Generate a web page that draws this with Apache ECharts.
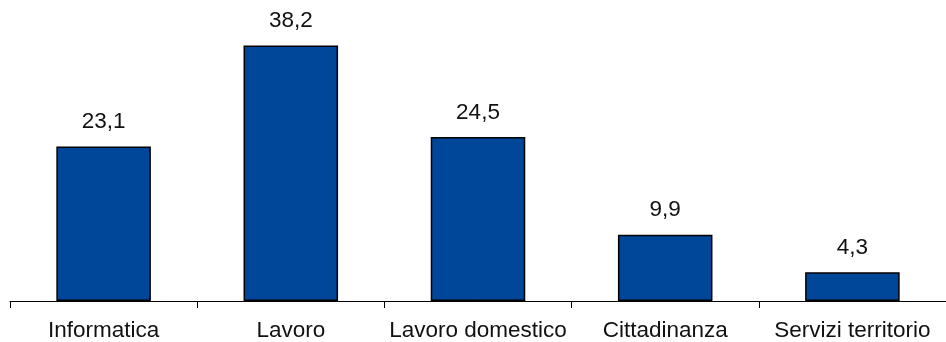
<!DOCTYPE html>
<html><head><meta charset="utf-8">
<script src="https://cdn.jsdelivr.net/npm/echarts@6/dist/echarts.min.js"></script>
<style>html,body{margin:0;padding:0;background:#fff}#c{width:946px;height:342px}</style>
</head><body><div id="c"></div>
<script>
const categories = ["Informatica", "Lavoro", "Lavoro domestico", "Cittadinanza", "Servizi territorio"];
const values = [23.1, 38.2, 24.5, 9.9, 4.3];

const chart = echarts.init(document.getElementById('c'), null, {renderer: 'canvas'});
chart.setOption({
  animation: false,
  grid: {left: 10, width: 940, top: 0, bottom: 38, containLabel: false},
  xAxis: {
    type: 'category', data: categories,
    axisLine: {show: true, lineStyle: {color: '#000', width: 1}},
    axisTick: {show: true, length: 7, lineStyle: {color: '#000', width: 1}},
    axisLabel: {color: '#111', fontSize: 22.5, fontFamily: 'Liberation Sans, Arial, sans-serif', margin: 18, interval: 0}
  },
  yAxis: {type: 'value', min: 0, max: 45, show: false, splitLine: {show: false}},
  series: [{
    type: 'bar', data: values, barWidth: '50.5%',
    itemStyle: {color: '#00479A', borderColor: '#000', borderWidth: 1.5},
    label: {show: true, position: 'top', distance: 13, color: '#111', fontSize: 22.5,
      fontFamily: 'Liberation Sans, Arial, sans-serif',
      formatter: p => p.value.toFixed(1).replace('.', ',')}
  }]
});
</script></body></html>
